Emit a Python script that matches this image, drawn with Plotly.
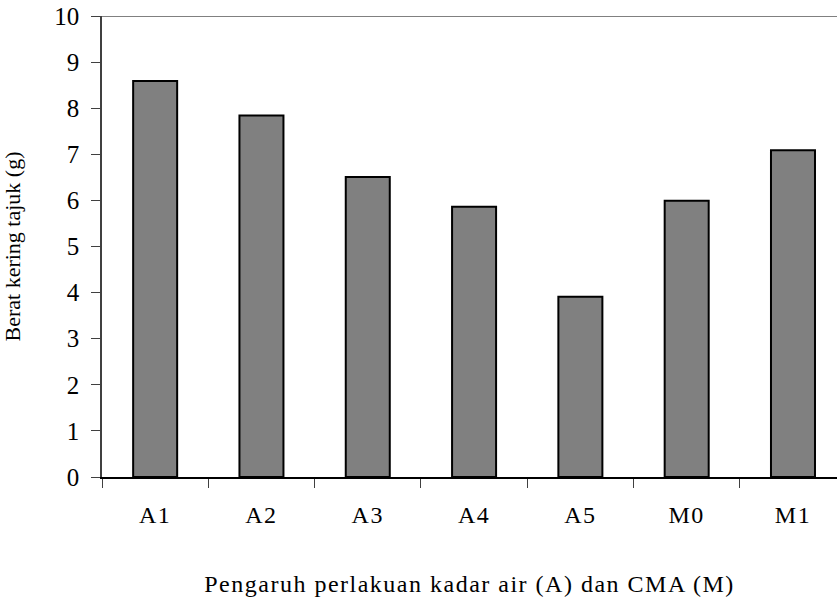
import plotly.graph_objects as go

categories = ["A1", "A2", "A3", "A4", "A5", "M0", "M1"]
values = [8.59, 7.84, 6.51, 5.86, 3.91, 5.99, 7.09]
y_ticks = [0, 1, 2, 3, 4, 5, 6, 7, 8, 9, 10]

x_title = "Pengaruh perlakuan kadar air (A) dan CMA (M)"
y_title = "Berat kering tajuk (g)"

font_family = "Liberation Serif, Times New Roman, serif"

fig = go.Figure(
    go.Bar(
        x=categories,
        y=values,
        width=0.414,
        marker=dict(color="#808080", line=dict(color="#000000", width=2)),
    )
)

fig.add_shape(
    type="line", xref="paper", yref="y", x0=0, x1=1, y0=10, y1=10,
    line=dict(color="#808080", width=2),
)

fig.update_layout(
    width=837,
    height=604,
    margin=dict(l=102, r=0, t=16, b=127),
    plot_bgcolor="white",
    paper_bgcolor="white",
    showlegend=False,
    font=dict(family=font_family, color="#000000"),
    xaxis=dict(
        type="category",
        range=[-0.5, 6.414],
        automargin=False,
        tickson="boundaries",
        ticks="outside",
        ticklen=9,
        tickcolor="#404040",
        tickwidth=1,
        showline=True,
        linecolor="#000000",
        linewidth=2,
        showgrid=False,
        tickvals=categories,
        ticktext=['<span style="letter-spacing:1.5px">%s</span>' % c for c in categories],
        tickfont=dict(size=24, family=font_family),
        ticklabelstandoff=15,
        title=dict(
            text='<span style="letter-spacing:1.5px">%s</span>' % x_title,
            font=dict(size=24, family=font_family),
            standoff=48,
        ),
    ),
    yaxis=dict(
        range=[0, 10],
        automargin=False,
        tickmode="array",
        tickvals=y_ticks,
        ticks="outside",
        ticklen=9,
        tickcolor="#404040",
        showline=True,
        linecolor="#404040",
        linewidth=1.5,
        showgrid=False,
        zeroline=False,
        tickfont=dict(size=25, family=font_family),
        ticklabelstandoff=7,
        title=dict(text=y_title, font=dict(size=22, family=font_family), standoff=30),
    ),
)

fig.write_html(
    "out.html",
    config={"displayModeBar": False},
    post_script="document.body.style.margin='0';",
)
